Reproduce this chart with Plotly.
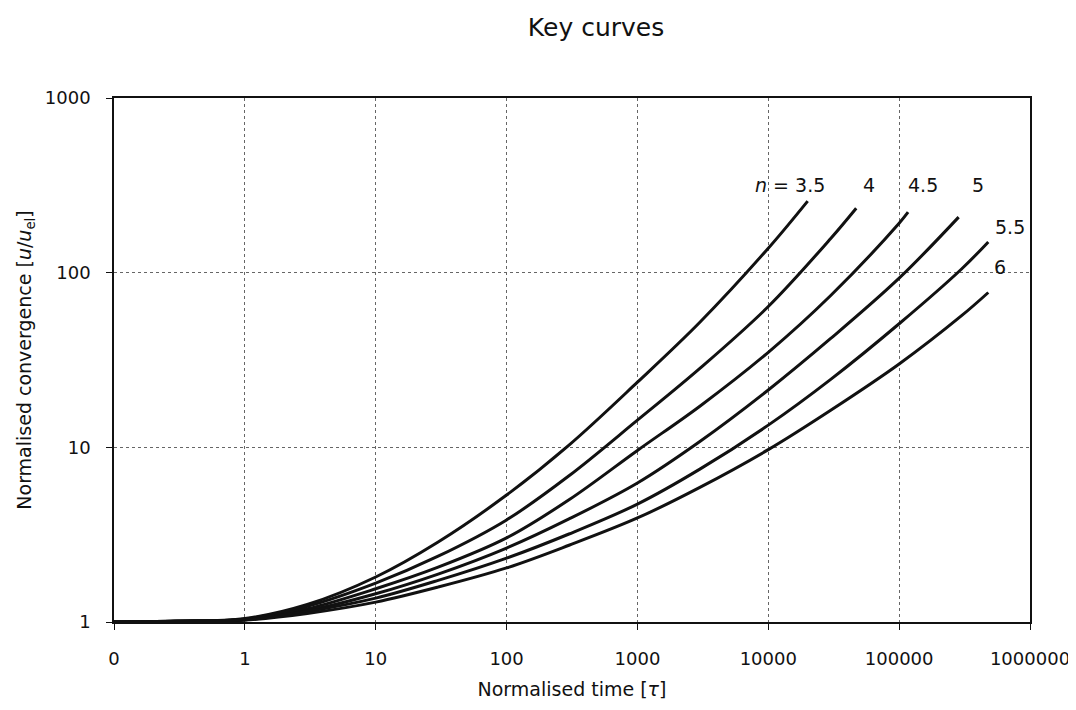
import plotly.graph_objects as go

# ---- data ----
n_labels = ["3.5", "4", "4.5", "5", "5.5", "6"]

tau_n35 = [0.1, 0.3, 1, 3, 10, 30, 100, 300, 1000, 3000, 10000, 20000]
u_n35 = [1.0, 1.01, 1.047, 1.26, 1.81, 2.87, 5.33, 10.3, 23.6, 52, 138, 257]

tau_n4 = [0.1, 0.3, 1, 3, 10, 30, 100, 300, 1000, 3000, 10000, 30000, 47000]
u_n4 = [1.0, 1.01, 1.04, 1.23, 1.67, 2.38, 3.84, 6.87, 14.3, 28.3, 64, 157, 234]

tau_n45 = [0.1, 0.3, 1, 3, 10, 30, 100, 300, 1000, 3000, 10000, 30000, 100000, 117000]
u_n45 = [1.0, 1.01, 1.035, 1.19, 1.55, 2.06, 3.03, 5.01, 9.6, 17.2, 35, 74, 192, 222]

tau_n5 = [0.1, 0.3, 1, 3, 10, 30, 100, 300, 1000, 3000, 10000, 30000, 100000, 285000]
u_n5 = [1.0, 1.01, 1.03, 1.16, 1.45, 1.88, 2.65, 3.89, 6.25, 10.8, 21.3, 42, 93, 208]

tau_n55 = [0.1, 0.3, 1, 3, 10, 30, 100, 300, 1000, 3000, 10000, 30000, 100000, 300000, 480000]
u_n55 = [1.0, 1.01, 1.028, 1.148, 1.37, 1.73, 2.32, 3.19, 4.73, 7.5, 13.4, 24.5, 51, 105, 150]

tau_n6 = [0.1, 0.3, 1, 3, 10, 30, 100, 300, 1000, 3000, 10000, 30000, 100000, 300000, 480000]
u_n6 = [1.0, 1.01, 1.026, 1.12, 1.30, 1.585, 2.04, 2.75, 3.94, 5.9, 9.7, 16.3, 30, 56.7, 77]

x_tickvals = [0.1, 1, 10, 100, 1000, 10000, 100000, 1000000]
x_ticktext = ["0", "1", "10", "100", "1000", "10000", "100000", "1000000"]
y_tickvals = [1, 10, 100, 1000]
y_ticktext = ["1", "10", "100", "1000"]

series = [(tau_n35, u_n35), (tau_n4, u_n4), (tau_n45, u_n45),
          (tau_n5, u_n5), (tau_n55, u_n55), (tau_n6, u_n6)]

FONT = "DejaVu Sans"

fig = go.Figure()
for (t, u), lab in zip(series, n_labels):
    fig.add_trace(go.Scatter(x=t, y=u, mode="lines", name="n = " + lab,
                             line=dict(color="#111111", width=3, shape="spline", smoothing=1.0),
                             showlegend=False))

# curve labels (log10 coordinates)
label_pos = [(4.164, 2.50, "<i>n</i> = 3.5"), (4.768, 2.50, "4"), (5.18, 2.50, "4.5"),
             (5.60, 2.50, "5"), (5.845, 2.261, "5.5"), (5.769, 2.032, "6")]
for lx, ly, txt in label_pos:
    fig.add_annotation(x=lx, y=ly, xref="x", yref="y", text=txt, showarrow=False,
                       font=dict(family=FONT, size=19, color="#111111"))

axis_common = dict(showline=True, linecolor="#111111", linewidth=1.5, mirror=True,
                   ticks="outside", ticklen=6, tickcolor="#111111",
                   showgrid=True, gridcolor="#666666", gridwidth=1, griddash="dot",
                   zeroline=False, automargin=False,
                   tickfont=dict(family=FONT, size=18, color="#111111"))

fig.update_xaxes(type="log", range=[-1, 6], tickvals=x_tickvals, ticktext=x_ticktext,
                 ticklabelstandoff=14,
                 title=dict(text="Normalised time [<i>τ</i>]", font=dict(family=FONT, size=19, color="#111111"),
                            standoff=14),
                 **axis_common)
fig.update_yaxes(type="log", range=[0, 3], tickvals=y_tickvals, ticktext=y_ticktext,
                 ticklabelstandoff=12,
                 title=dict(text="Normalised convergence [<i>u</i>/<i>u</i><sub>el</sub>]",
                            font=dict(family=FONT, size=19, color="#111111"), standoff=8),
                 **axis_common)

fig.update_layout(
    width=1068, height=702,
    margin=dict(l=106, r=46, t=90, b=88),
    paper_bgcolor="white", plot_bgcolor="white",
    title=dict(text="Key curves", x=0.5506, xanchor="center", y=0.9729, yanchor="middle",
               font=dict(family=FONT, size=25, color="#111111")),
)

fig.write_html("out.html")
